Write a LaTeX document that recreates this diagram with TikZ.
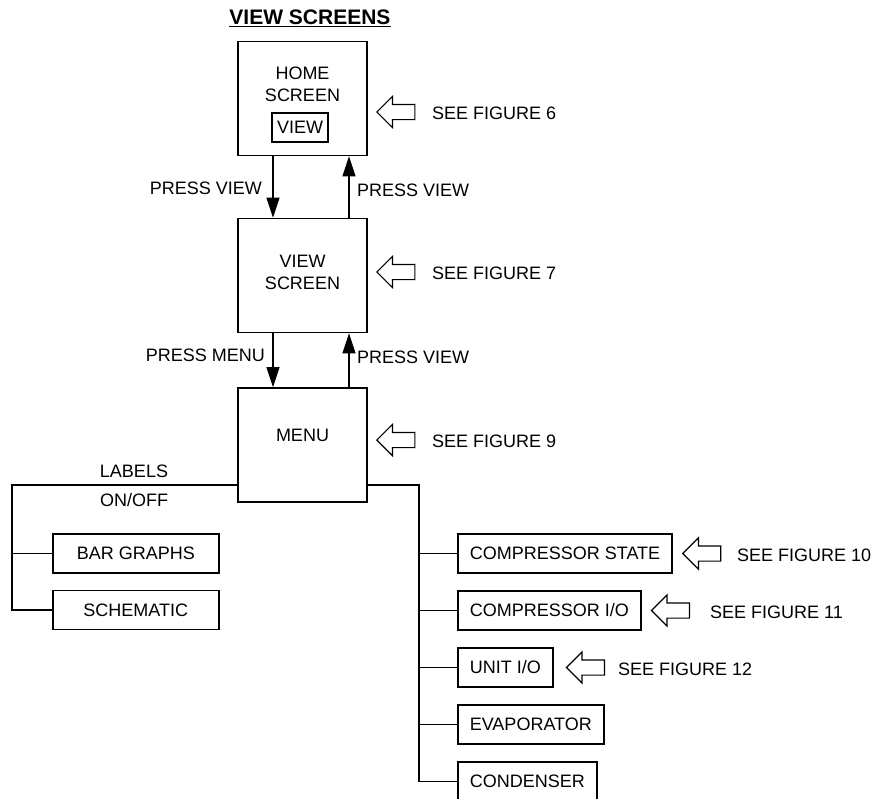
\documentclass[tikz,border=0pt]{standalone}
\usepackage{fontspec}
\setmainfont{Liberation Sans}
\usepackage{tikz}
\usetikzlibrary{
    shapes,
    shapes.arrows,
    positioning,
    calc,
    arrows.meta
}
\tikzset{
  txt/.style = {
      font=\fontsize{18}{22}\selectfont,
      inner sep=0pt
  },
  heading/.style = {
      font=\fontsize{21}{25}\selectfont\bfseries,
      inner sep=0pt
  },
  screen/.style = {
      draw,
      rectangle,
      line width=1.6pt,
      minimum width=129pt,
      minimum height=114pt
  },
  keybox/.style = {
      txt,
      draw,
      line width=1.4pt,
      minimum width=56pt,
      minimum height=29pt
  },
  item/.style = {
      txt,
      draw,
      rectangle,
      line width=1.6pt,
      anchor=west,
      inner xsep=12pt,
      minimum height=39pt
  },
  sidebox/.style = {
      item,
      minimum width=166pt,
      align=center
  },
  hollow/.style = {
      single arrow,
      draw,
      line width=1.2pt,
      shape border rotate=180,
      minimum height=38pt,
      single arrow head extend=8pt,
      inner xsep=0pt,
      inner ysep=7pt,
      anchor=tip
  },
  seefig/.style = {
      txt,
      anchor=west
  },
  flow/.style = {
      line width=1.2pt,
      -{Triangle[length=20pt,width=13pt]}
  },
  wire/.style = {
      line width=1.4pt
  }
}
\begin{document}
\begin{tikzpicture}[x=1pt,y=-1pt]
    \useasboundingbox (0,0) rectangle (882,798);
    % Screens
    \node[heading] (ttl) at (310,18) {\underline{VIEW SCREENS}};
    \node[screen] (home) at (302.5,98.5) {};
    \node[txt, align=center] (hometxt) at (302.5,84) {HOME\\SCREEN};
    \node[keybox] (viewkey) at (300,127.5) {VIEW};
    \node[screen] (view) at (302.5,275.5) {};
    \node[txt, align=center] (viewtxt) at (302.5,272) {VIEW\\SCREEN};
    \node[screen] (menu) at (302.5,445) {};
    \node[txt] (menutxt) at (302.5,435) {MENU};
    % Figure pointers
    \node[hollow] (arr6) at (376,112) {};
    \node[seefig] (fig6) at (432,113) {SEE FIGURE 6};
    \node[hollow] (arr7) at (376,272) {};
    \node[seefig] (fig7) at (432,273) {SEE FIGURE 7};
    \node[hollow] (arr9) at (376,440) {};
    \node[seefig] (fig9) at (432,441) {SEE FIGURE 9};
    % Left branch
    \node[sidebox] (bars) at (52,553.5) {BAR GRAPHS};
    \node[sidebox] (schem) at (52,610) {SCHEMATIC};
    \node[txt] (lbl1) at (134,471) {LABELS};
    \node[txt] (lbl2) at (134,500) {ON/OFF};
    % Right branch
    \node[item] (cs) at (457,553.5) {COMPRESSOR STATE};
    \node[item] (cio) at (457,610.5) {COMPRESSOR I/O};
    \node[item] (uio) at (457,667.5) {UNIT I/O};
    \node[item] (evap) at (457,724.5) {EVAPORATOR};
    \node[item] (cond) at (457,781.5) {CONDENSER};
    \node[hollow] (arr10) at ([xshift=9pt]cs.east) {};
    \node[seefig] (fig10) at (737,555) {SEE FIGURE 10};
    \node[hollow] (arr11) at ([xshift=9pt]cio.east) {};
    \node[seefig] (fig11) at (710,612) {SEE FIGURE 11};
    \node[hollow] (arr12) at ([xshift=12pt]uio.east) {};
    \node[seefig] (fig12) at (618,669) {SEE FIGURE 12};
    % Edges
    \draw[flow] ([xshift=-29.5pt]home.south) -- ([xshift=-29.5pt]view.north);
    \draw[flow] ([xshift=46.5pt]view.north) -- ([xshift=46.5pt]home.south);
    \draw[flow] ([xshift=-29.5pt]view.south) -- ([xshift=-29.5pt]menu.north);
    \draw[flow] ([xshift=46.5pt]menu.north) -- ([xshift=46.5pt]view.south);
    \node[txt, anchor=east] (pv1) at (262,188) {PRESS VIEW};
    \node[txt, anchor=west] (pv2) at (357,190) {PRESS VIEW};
    \node[txt, anchor=east] (pm) at (265,355) {PRESS MENU};
    \node[txt, anchor=west] (pv3) at (357,357) {PRESS VIEW};
    \coordinate (lj) at (12,485);
    \coordinate (rj) at (419,485);
    \draw[wire] (menu.west |- lj) -- (lj) -- (lj |- schem.west) -- (schem.west);
    \draw[wire] (lj |- bars.west) -- (bars.west);
    \draw[wire] (menu.east |- rj) -- (rj) -- (rj |- cond.west) -- (cond.west);
    \foreach \n in {cs,cio,uio,evap}
        \draw[wire] (rj |- \n.west) -- (\n.west);
\end{tikzpicture}
\end{document}
